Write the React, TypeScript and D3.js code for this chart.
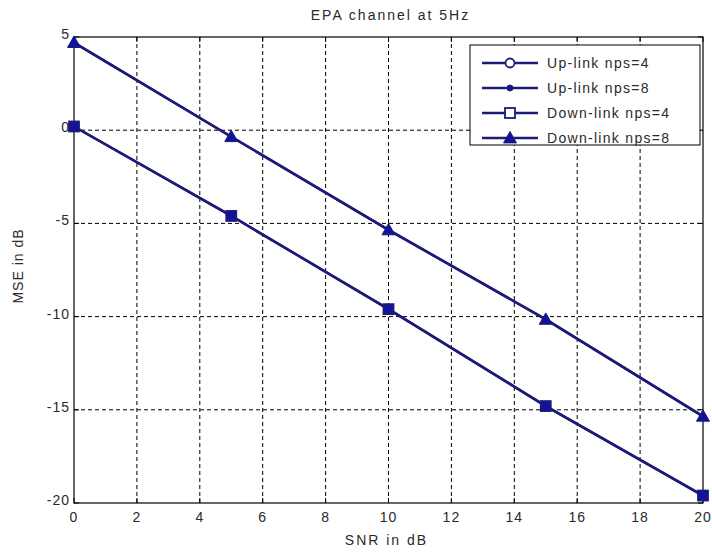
import React from "react";
import * as d3 from "d3";

const snr = [0, 5, 10, 15, 20];
const upNps4 = [0.2, -4.6, -9.6, -14.8, -19.6];
const upNps8 = [4.7, -0.35, -5.35, -10.15, -15.35];
const downNps4 = [0.2, -4.6, -9.6, -14.8, -19.6];
const downNps8 = [4.7, -0.35, -5.35, -10.15, -15.35];
const xTicks = [0, 2, 4, 6, 8, 10, 12, 14, 16, 18, 20];
const yTicks = [-20, -15, -10, -5, 0, 5];
const legendLabels = ["Up-link  nps=4", "Up-link  nps=8", "Down-link  nps=4", "Down-link  nps=8"];

const W = 712, H = 553;
const L = 74, R = 703, T = 37, B = 503;
const LINE = "#1c1c78";
const FILL = "#12129a";
const FONT = "'Liberation Sans', Arial, sans-serif";
const TXT = "#2a2a2a";

type Kind = "circle" | "dot" | "square" | "triangle";

function Marker({ kind, x, y, legend }: { kind: Kind; x: number; y: number; legend?: boolean }) {
  const hollow = legend && (kind === "circle" || kind === "square");
  const fill = hollow ? "#fff" : FILL;
  const sw = 1.8;
  if (kind === "circle") return <circle cx={x} cy={y} r={4.5} fill={fill} stroke={LINE} strokeWidth={sw} />;
  if (kind === "dot") return <circle cx={x} cy={y} r={3} fill={FILL} stroke={LINE} strokeWidth={1} />;
  if (kind === "square") return <rect x={x - 5} y={y - 5} width={10} height={10} fill={fill} stroke={LINE} strokeWidth={sw} />;
  const s = 6.5;
  return <path d={`M${x},${y - s}L${x + s},${y + s * 0.75}L${x - s},${y + s * 0.75}Z`} fill={FILL} stroke={LINE} strokeWidth={1} />;
}

export default function App() {
  const x = d3.scaleLinear().domain([0, 20]).range([L, R]);
  const y = d3.scaleLinear().domain([-20, 5]).range([B, T]);
  const line = d3.line<number>().x((_, i) => x(snr[i])).y((d) => y(d));
  const series: { vals: number[]; kind: Kind }[] = [
    { vals: upNps4, kind: "circle" },
    { vals: upNps8, kind: "dot" },
    { vals: downNps4, kind: "square" },
    { vals: downNps8, kind: "triangle" },
  ];
  const lx = 470, ly = 45, lw = 230, lh = 100;
  return (
    <svg width={W} height={H} style={{ position: "absolute", left: 0, top: 0, background: "#fff" }} fontFamily={FONT}>
      <rect width={W} height={H} fill="#fff" />
      <text x={(L + R) / 2 + 2} y={20} textAnchor="middle" fontSize={14} letterSpacing={2} fill={TXT}>EPA channel at 5Hz</text>
      {/* grid */}
      {xTicks.slice(1, -1).map((t) => (
        <line key={"gx" + t} x1={x(t)} x2={x(t)} y1={T} y2={B} stroke="#000" strokeWidth={1} strokeDasharray="4,3" />
      ))}
      {yTicks.slice(1, -1).map((t) => (
        <line key={"gy" + t} x1={L} x2={R} y1={y(t)} y2={y(t)} stroke="#000" strokeWidth={1} strokeDasharray="4,3" />
      ))}
      {/* ticks */}
      {xTicks.map((t) => (
        <g key={"tx" + t}>
          <line x1={x(t)} x2={x(t)} y1={B} y2={B - 5} stroke="#000" />
          <line x1={x(t)} x2={x(t)} y1={T} y2={T + 5} stroke="#000" />
          <text x={x(t)} y={B + 19} textAnchor="middle" fontSize={14} letterSpacing={1} fill={TXT}>{t}</text>
        </g>
      ))}
      {yTicks.map((t) => (
        <g key={"ty" + t}>
          <line x1={L} x2={L + 5} y1={y(t)} y2={y(t)} stroke="#000" />
          <line x1={R} x2={R - 5} y1={y(t)} y2={y(t)} stroke="#000" />
          <text x={L - 4} y={y(t) + 2} textAnchor="end" fontSize={14} letterSpacing={1} fill={TXT}>{t}</text>
        </g>
      ))}
      <rect x={L} y={T} width={R - L} height={B - T} fill="none" stroke="#000" strokeWidth={1.2} />
      {/* series */}
      {series.map((s, i) => (
        <path key={"l" + i} d={line(s.vals) || ""} fill="none" stroke={LINE} strokeWidth={2.5} />
      ))}
      {series.map((s, i) => (
        <g key={"m" + i}>
          {s.vals.map((v, j) => (
            <Marker key={j} kind={s.kind} x={x(snr[j])} y={y(v)} />
          ))}
        </g>
      ))}
      {/* axis labels */}
      <text x={(L + R) / 2 - 2} y={545} textAnchor="middle" fontSize={14} letterSpacing={2} fill={TXT}>SNR in dB</text>
      <text transform={`translate(23,${(T + B) / 2 - 4}) rotate(-90)`} textAnchor="middle" fontSize={14} letterSpacing={1} fill={TXT}>MSE in dB</text>
      {/* legend */}
      <rect x={lx} y={ly} width={lw} height={lh} fill="#fff" stroke="#000" strokeWidth={1} />
      {series.map((s, i) => {
        const yy = ly + 18 + i * 25;
        return (
          <g key={"lg" + i}>
            <line x1={482} x2={538} y1={yy} y2={yy} stroke={LINE} strokeWidth={2.5} />
            <Marker kind={s.kind} x={510} y={yy} legend />
            <text x={547} y={yy + 5} fontSize={14} letterSpacing={1.3} fill={TXT}>{legendLabels[i]}</text>
          </g>
        );
      })}
    </svg>
  );
}
